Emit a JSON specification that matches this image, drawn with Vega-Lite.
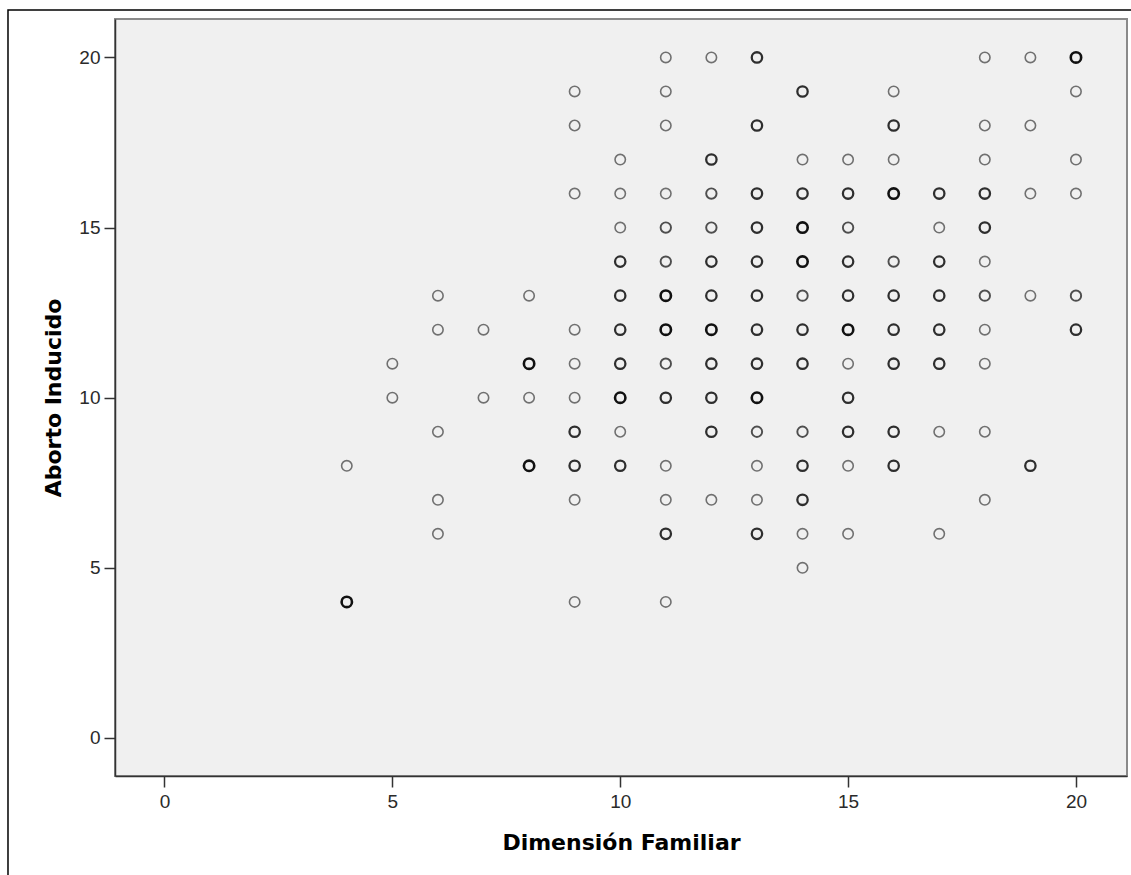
{
  "$schema": "https://vega.github.io/schema/vega-lite/v6.json",
  "width": 1012,
  "height": 757,
  "autosize": "none",
  "padding": {"left": 115, "top": 19, "right": 4, "bottom": 99},
  "background": "white",
  "config": {
    "view": {"fill": "#F0F0F0", "stroke": "#8a8a8a", "strokeWidth": 2},
    "axis": {
      "grid": false,
      "domain": true,
      "domainColor": "#333333",
      "domainWidth": 1.5,
      "tickColor": "#333333",
      "tickWidth": 1.5,
      "tickSize": 11,
      "labelFont": "Liberation Sans",
      "labelFontSize": 19,
      "labelColor": "#2a2a2a",
      "titleFont": "DejaVu Sans",
      "titleFontSize": 22,
      "titleFontWeight": "bold",
      "titleColor": "#000000"
    }
  },
  "layer": [
    {
      "data": {"values": [{"x1": -3.434, "x2": 21.45, "y1": 21.396, "y2": -4.8}]},
      "mark": {"type": "rect", "fillOpacity": 0, "stroke": "#000000", "strokeWidth": 1.5},
      "encoding": {
        "x": {"field": "x1", "type": "quantitative", "scale": {"domain": [-1.086, 21.12], "nice": false, "zero": false}},
        "x2": {"field": "x2"},
        "y": {"field": "y1", "type": "quantitative", "scale": {"domain": [-1.117, 21.13], "nice": false, "zero": false}},
        "y2": {"field": "y2"}
      }
    },
    {
      "data": {"values": [
        {"familiar": 11, "aborto": 20, "n": 1}, {"familiar": 12, "aborto": 20, "n": 1}, {"familiar": 13, "aborto": 20, "n": 3}, {"familiar": 18, "aborto": 20, "n": 1}, {"familiar": 19, "aborto": 20, "n": 1}, {"familiar": 20, "aborto": 20, "n": 4},
        {"familiar": 9, "aborto": 19, "n": 1}, {"familiar": 11, "aborto": 19, "n": 1}, {"familiar": 14, "aborto": 19, "n": 3}, {"familiar": 16, "aborto": 19, "n": 1}, {"familiar": 20, "aborto": 19, "n": 1},
        {"familiar": 9, "aborto": 18, "n": 1}, {"familiar": 11, "aborto": 18, "n": 1}, {"familiar": 13, "aborto": 18, "n": 3}, {"familiar": 16, "aborto": 18, "n": 3}, {"familiar": 18, "aborto": 18, "n": 1}, {"familiar": 19, "aborto": 18, "n": 1},
        {"familiar": 10, "aborto": 17, "n": 1}, {"familiar": 12, "aborto": 17, "n": 3}, {"familiar": 14, "aborto": 17, "n": 1}, {"familiar": 15, "aborto": 17, "n": 1}, {"familiar": 16, "aborto": 17, "n": 1}, {"familiar": 18, "aborto": 17, "n": 1}, {"familiar": 20, "aborto": 17, "n": 1},
        {"familiar": 9, "aborto": 16, "n": 1}, {"familiar": 10, "aborto": 16, "n": 1}, {"familiar": 11, "aborto": 16, "n": 1}, {"familiar": 12, "aborto": 16, "n": 2}, {"familiar": 13, "aborto": 16, "n": 3}, {"familiar": 14, "aborto": 16, "n": 3}, {"familiar": 15, "aborto": 16, "n": 3}, {"familiar": 16, "aborto": 16, "n": 4}, {"familiar": 17, "aborto": 16, "n": 3}, {"familiar": 18, "aborto": 16, "n": 3}, {"familiar": 19, "aborto": 16, "n": 1}, {"familiar": 20, "aborto": 16, "n": 1},
        {"familiar": 10, "aborto": 15, "n": 1}, {"familiar": 11, "aborto": 15, "n": 2}, {"familiar": 12, "aborto": 15, "n": 2}, {"familiar": 13, "aborto": 15, "n": 3}, {"familiar": 14, "aborto": 15, "n": 4}, {"familiar": 15, "aborto": 15, "n": 2}, {"familiar": 17, "aborto": 15, "n": 1}, {"familiar": 18, "aborto": 15, "n": 3},
        {"familiar": 10, "aborto": 14, "n": 3}, {"familiar": 11, "aborto": 14, "n": 2}, {"familiar": 12, "aborto": 14, "n": 3}, {"familiar": 13, "aborto": 14, "n": 3}, {"familiar": 14, "aborto": 14, "n": 4}, {"familiar": 15, "aborto": 14, "n": 3}, {"familiar": 16, "aborto": 14, "n": 2}, {"familiar": 17, "aborto": 14, "n": 3}, {"familiar": 18, "aborto": 14, "n": 1},
        {"familiar": 6, "aborto": 13, "n": 1}, {"familiar": 8, "aborto": 13, "n": 1}, {"familiar": 10, "aborto": 13, "n": 3}, {"familiar": 11, "aborto": 13, "n": 4}, {"familiar": 12, "aborto": 13, "n": 3}, {"familiar": 13, "aborto": 13, "n": 3}, {"familiar": 14, "aborto": 13, "n": 2}, {"familiar": 15, "aborto": 13, "n": 3}, {"familiar": 16, "aborto": 13, "n": 3}, {"familiar": 17, "aborto": 13, "n": 3}, {"familiar": 18, "aborto": 13, "n": 2}, {"familiar": 19, "aborto": 13, "n": 1}, {"familiar": 20, "aborto": 13, "n": 2},
        {"familiar": 6, "aborto": 12, "n": 1}, {"familiar": 7, "aborto": 12, "n": 1}, {"familiar": 9, "aborto": 12, "n": 1}, {"familiar": 10, "aborto": 12, "n": 3}, {"familiar": 11, "aborto": 12, "n": 4}, {"familiar": 12, "aborto": 12, "n": 6}, {"familiar": 13, "aborto": 12, "n": 3}, {"familiar": 14, "aborto": 12, "n": 3}, {"familiar": 15, "aborto": 12, "n": 4}, {"familiar": 16, "aborto": 12, "n": 3}, {"familiar": 17, "aborto": 12, "n": 3}, {"familiar": 18, "aborto": 12, "n": 1}, {"familiar": 20, "aborto": 12, "n": 3},
        {"familiar": 5, "aborto": 11, "n": 1}, {"familiar": 8, "aborto": 11, "n": 4}, {"familiar": 9, "aborto": 11, "n": 1}, {"familiar": 10, "aborto": 11, "n": 3}, {"familiar": 11, "aborto": 11, "n": 2}, {"familiar": 12, "aborto": 11, "n": 3}, {"familiar": 13, "aborto": 11, "n": 3}, {"familiar": 14, "aborto": 11, "n": 3}, {"familiar": 15, "aborto": 11, "n": 1}, {"familiar": 16, "aborto": 11, "n": 3}, {"familiar": 17, "aborto": 11, "n": 3}, {"familiar": 18, "aborto": 11, "n": 1},
        {"familiar": 5, "aborto": 10, "n": 1}, {"familiar": 7, "aborto": 10, "n": 1}, {"familiar": 8, "aborto": 10, "n": 1}, {"familiar": 9, "aborto": 10, "n": 1}, {"familiar": 10, "aborto": 10, "n": 4}, {"familiar": 11, "aborto": 10, "n": 3}, {"familiar": 12, "aborto": 10, "n": 3}, {"familiar": 13, "aborto": 10, "n": 4}, {"familiar": 15, "aborto": 10, "n": 3},
        {"familiar": 6, "aborto": 9, "n": 1}, {"familiar": 9, "aborto": 9, "n": 3}, {"familiar": 10, "aborto": 9, "n": 1}, {"familiar": 12, "aborto": 9, "n": 3}, {"familiar": 13, "aborto": 9, "n": 2}, {"familiar": 14, "aborto": 9, "n": 2}, {"familiar": 15, "aborto": 9, "n": 3}, {"familiar": 16, "aborto": 9, "n": 3}, {"familiar": 17, "aborto": 9, "n": 1}, {"familiar": 18, "aborto": 9, "n": 1},
        {"familiar": 4, "aborto": 8, "n": 1}, {"familiar": 8, "aborto": 8, "n": 4}, {"familiar": 9, "aborto": 8, "n": 3}, {"familiar": 10, "aborto": 8, "n": 3}, {"familiar": 11, "aborto": 8, "n": 1}, {"familiar": 13, "aborto": 8, "n": 1}, {"familiar": 14, "aborto": 8, "n": 3}, {"familiar": 15, "aborto": 8, "n": 1}, {"familiar": 16, "aborto": 8, "n": 3}, {"familiar": 19, "aborto": 8, "n": 3},
        {"familiar": 6, "aborto": 7, "n": 1}, {"familiar": 9, "aborto": 7, "n": 1}, {"familiar": 11, "aborto": 7, "n": 1}, {"familiar": 12, "aborto": 7, "n": 1}, {"familiar": 13, "aborto": 7, "n": 1}, {"familiar": 14, "aborto": 7, "n": 3}, {"familiar": 18, "aborto": 7, "n": 1},
        {"familiar": 6, "aborto": 6, "n": 1}, {"familiar": 11, "aborto": 6, "n": 3}, {"familiar": 13, "aborto": 6, "n": 3}, {"familiar": 14, "aborto": 6, "n": 1}, {"familiar": 15, "aborto": 6, "n": 1}, {"familiar": 17, "aborto": 6, "n": 1},
        {"familiar": 14, "aborto": 5, "n": 1},
        {"familiar": 4, "aborto": 4, "n": 4}, {"familiar": 9, "aborto": 4, "n": 1}, {"familiar": 11, "aborto": 4, "n": 1}
      ]},
      "mark": {"type": "point", "shape": "circle", "filled": false, "size": 108, "opacity": 1},
      "encoding": {
        "x": {
          "field": "familiar", "type": "quantitative",
          "scale": {"domain": [-1.086, 21.12], "nice": false, "zero": false},
          "axis": {"values": [0, 5, 10, 15, 20], "title": "Dimensión Familiar", "labelPadding": 5, "titleBaseline": "alphabetic", "titleY": 73}
        },
        "y": {
          "field": "aborto", "type": "quantitative",
          "scale": {"domain": [-1.117, 21.13], "nice": false, "zero": false},
          "axis": {"values": [0, 5, 10, 15, 20], "title": "Aborto Inducido", "labelPadding": 4, "titleBaseline": "alphabetic", "titleX": -55, "titleAngle": 270}
        },
        "stroke": {"field": "n", "type": "quantitative", "scale": {"domain": [1, 4], "range": ["#707070", "#111111"], "clamp": true}, "legend": null},
        "strokeWidth": {"field": "n", "type": "quantitative", "scale": {"domain": [1, 4], "range": [1.6, 2.6], "clamp": true}, "legend": null}
      }
    }
  ]
}
